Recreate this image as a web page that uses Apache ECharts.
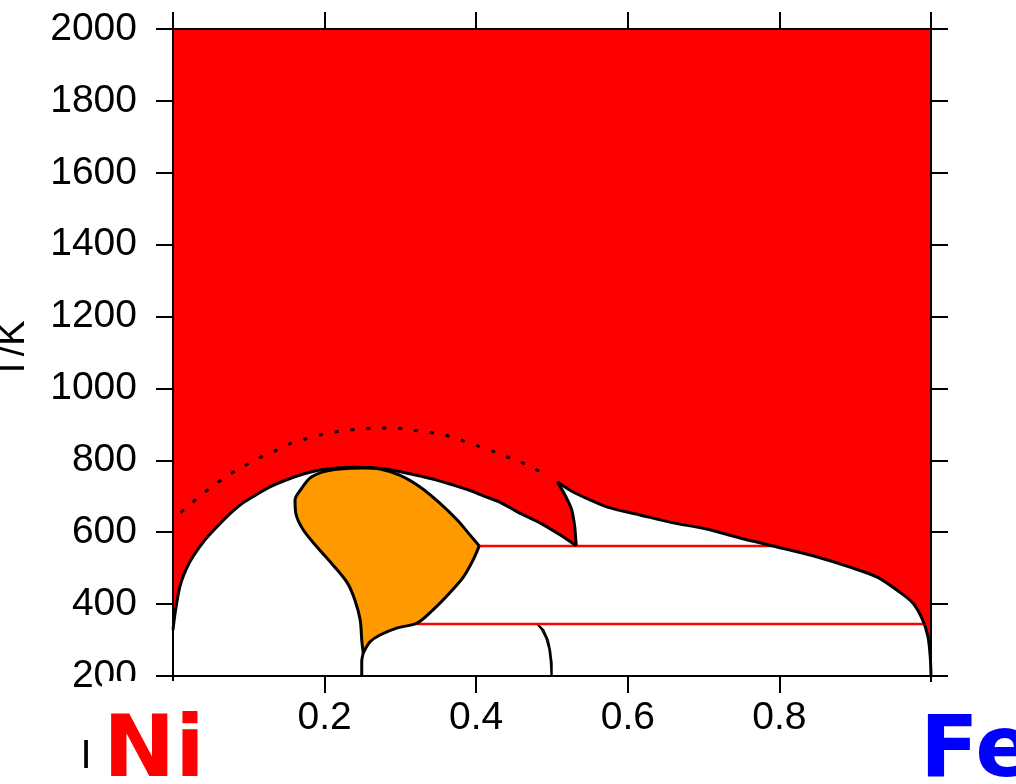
<!DOCTYPE html>
<html>
<head>
<meta charset="utf-8">
<script src="https://cdn.jsdelivr.net/npm/echarts@6/dist/echarts.min.js"></script>
<style>
html, body { margin: 0; padding: 0; background: #fff; }
#chart { width: 1016px; height: 784px; }
</style>
</head>
<body>
<div id="chart"></div>
<script>
// Ni–Fe phase diagram: composition (mole fraction Fe) vs temperature T/K

const xTicks = [0, 0.2, 0.4, 0.6, 0.8, 1];
const yTicks = [200, 400, 600, 800, 1000, 1200, 1400, 1600, 1800, 2000];

// Lower edge of the disordered (red) field, in three pieces:
// the dome from pure Ni down to the cusp ...
const domeBoundary = [
  [0, 328], [0.003, 378], [0.009, 448], [0.017, 495], [0.026, 531], [0.042, 578],
  [0.058, 615], [0.075, 651], [0.092, 681], [0.112, 707], [0.130, 728], [0.150, 746],
  [0.172, 762], [0.194, 773], [0.216, 779], [0.240, 781], [0.260, 780], [0.282, 775],
  [0.303, 767], [0.326, 756], [0.348, 745], [0.370, 731], [0.392, 716], [0.411, 700],
  [0.431, 684], [0.455, 656], [0.484, 626], [0.511, 592], [0.532, 562]
];
// ... the steep edge rising from the cusp ...
const cuspEdge = [
  [0.532, 562], [0.531, 590], [0.530, 615], [0.526, 662], [0.517, 704], [0.507, 740]
];
// ... and the long descent towards pure Fe
const feBoundary = [
  [0.507, 740], [0.528, 712], [0.550, 690], [0.573, 670], [0.616, 648], [0.660, 626],
  [0.704, 609], [0.748, 584], [0.797, 559], [0.850, 531], [0.893, 503], [0.929, 475],
  [0.955, 439], [0.976, 403], [0.989, 356], [0.996, 309], [0.999, 253], [1, 200]
];

// Ordered (orange) field: rounded edge from the lower tip over the top to the right tip
const orderedUpper = [
  [0.251, 264], [0.249, 300], [0.247, 356], [0.240, 411], [0.230, 459], [0.211, 509],
  [0.190, 559], [0.172, 606], [0.162, 653], [0.161, 690], [0.168, 717], [0.181, 751],
  [0.198, 768], [0.220, 776], [0.251, 779], [0.273, 776], [0.299, 759], [0.326, 726],
  [0.352, 681], [0.375, 634], [0.392, 592], [0.404, 562]
];
// ... and its lower edge back from the right tip
const orderedLower = [
  [0.404, 562], [0.396, 523], [0.383, 475], [0.365, 431], [0.343, 384], [0.322, 347],
  [0.296, 334], [0.273, 314], [0.260, 295], [0.251, 264]
];
// Stem below the ordered field
const orderedStem = [[0.251, 264], [0.249, 240], [0.249, 200]];

// Narrow field near x = 0.5
const sliverLeft = [[0.480, 345], [0.486, 330], [0.492, 305], [0.496, 275], [0.498, 240], [0.499, 200]];
const sliverRight = [[0.481, 345], [0.489, 328], [0.495, 300], [0.498, 270], [0.500, 235], [0.500, 200]];

// Magnetic transition (dotted)
const curieLine = [
  [0.010, 655], [0.016, 665], [0.034, 698], [0.051, 726], [0.071, 756], [0.091, 781],
  [0.111, 804], [0.132, 823], [0.153, 845], [0.174, 859], [0.198, 873], [0.223, 882],
  [0.247, 887], [0.269, 890], [0.293, 890], [0.315, 884], [0.336, 879], [0.359, 870],
  [0.379, 857], [0.402, 840], [0.425, 823], [0.445, 806], [0.467, 787], [0.487, 765]
];

// Invariant (tie) lines
const tieUpper = [[0.404, 562], [0.796, 562]];
const tieLower = [[0.322, 345], [0.990, 345]];

const RED = '#ff0000';
const ORANGE = '#ff9900';
const FONT = 'Liberation Sans, Arial, sans-serif';

function polygonSeries(points, style, z) {
  return {
    type: 'custom',
    coordinateSystem: 'cartesian2d',
    data: [[0, 200]],
    z: z,
    silent: true,
    renderItem: function (params, api) {
      return {
        type: 'polygon',
        shape: { points: points.map(function (p) { return api.coord(p); }) },
        style: style
      };
    }
  };
}

function lineSeries(points, color, width, type, z, smooth) {
  return {
    type: 'line',
    data: points,
    showSymbol: false,
    symbol: 'none',
    silent: true,
    smooth: smooth || false,
    z: z,
    lineStyle: { color: color, width: width, type: type || 'solid', cap: 'butt', join: 'round' },
    animation: false
  };
}

const axisLine = { show: true, onZero: false, lineStyle: { color: '#000', width: 2 } };
const axisTick = { show: true, inside: false, length: 17, lineStyle: { color: '#000', width: 2 } };

const redField = [[0, 2000], [1, 2000]]
  .concat(feBoundary.slice().reverse())
  .concat(cuspEdge.slice().reverse())
  .concat(domeBoundary.slice().reverse());
const orderedOutline = orderedUpper.concat(orderedLower.slice(1));

const chart = echarts.init(document.getElementById('chart'), null, { renderer: 'canvas' });

chart.setOption({
  animation: false,
  backgroundColor: '#ffffff',
  grid: { left: 173, right: 85, top: 29, bottom: 108, containLabel: false },
  xAxis: [
    {
      type: 'value', min: xTicks[0], max: xTicks[xTicks.length - 1], interval: 0.2,
      position: 'bottom', z: 10,
      axisLine: axisLine, axisTick: axisTick, splitLine: { show: false },
      axisLabel: {
        margin: 23, color: '#000', fontSize: 39, fontFamily: FONT,
        formatter: function (v) { return (v > 0.01 && v < 0.99) ? v.toFixed(1) : ''; }
      }
    },
    {
      type: 'value', min: xTicks[0], max: xTicks[xTicks.length - 1], interval: 0.2,
      position: 'top', z: 10,
      axisLine: axisLine, axisTick: axisTick, splitLine: { show: false },
      axisLabel: { show: false }
    }
  ],
  yAxis: [
    {
      type: 'value', min: yTicks[0], max: yTicks[yTicks.length - 1], interval: 200,
      position: 'left', z: 10,
      axisLine: axisLine, axisTick: axisTick, splitLine: { show: false },
      axisLabel: {
        margin: 36, color: '#000', fontSize: 39, fontFamily: FONT,
        formatter: function (v) { return String(v); }
      }
    },
    {
      type: 'value', min: yTicks[0], max: yTicks[yTicks.length - 1], interval: 200,
      position: 'right', z: 10,
      axisLine: axisLine, axisTick: axisTick, splitLine: { show: false },
      axisLabel: { show: false }
    }
  ],
  series: [
    polygonSeries(redField, { fill: RED, stroke: null }, 1),
    polygonSeries(orderedOutline, { fill: ORANGE, stroke: null }, 2),
    polygonSeries(sliverLeft.concat(sliverRight.slice().reverse()),
      { fill: '#ffff00', stroke: '#000', lineWidth: 1.5 }, 2),
    lineSeries(domeBoundary, '#000', 3, 'solid', 4, 0.3),
    lineSeries(cuspEdge, '#000', 3, 'solid', 4, 0.3),
    lineSeries(feBoundary, '#000', 3, 'solid', 4, 0.3),
    lineSeries(orderedUpper, '#000', 3, 'solid', 4, 0.3),
    lineSeries(orderedLower, '#000', 3, 'solid', 4, 0.3),
    lineSeries(orderedStem, '#000', 3, 'solid', 4, 0.3),
    lineSeries(curieLine, '#000', 3, [4, 12], 5, 0.3),
    lineSeries(tieUpper, RED, 2.5, 'solid', 3),
    lineSeries(tieLower, RED, 2.5, 'solid', 3)
  ],
  graphic: [
    {
      type: 'text', x: 14, y: 350, rotation: Math.PI / 2, z: 20,
      style: { text: 'T/K', fontSize: 38, fontFamily: FONT, fill: '#000',
               textAlign: 'center', textVerticalAlign: 'middle' }
    },
    { type: 'rect', shape: { x: 102, y: 681, width: 190, height: 103 }, style: { fill: '#fff' }, z: 30 },
    {
      type: 'text', x: 154, y: 754, z: 31,
      style: { text: 'Ni', fontSize: 86, fontWeight: 'bold', fontFamily: 'DejaVu Sans, sans-serif',
               fill: RED, textAlign: 'center', textVerticalAlign: 'middle' }
    },
    {
      type: 'text', x: 86, y: 757, z: 31,
      style: { text: 'I', fontSize: 40, fontFamily: FONT, fill: '#000',
               textAlign: 'center', textVerticalAlign: 'middle' }
    },
    { type: 'rect', shape: { x: 890, y: 682, width: 126, height: 102 }, style: { fill: '#fff' }, z: 30 },
    {
      type: 'text', x: 920, y: 754, z: 31,
      style: { text: 'Fe', fontSize: 86, fontWeight: 'bold', fontFamily: 'DejaVu Sans, sans-serif',
               fill: '#0000ff', textAlign: 'left', textVerticalAlign: 'middle' }
    }
  ]
});
</script>
</body>
</html>
